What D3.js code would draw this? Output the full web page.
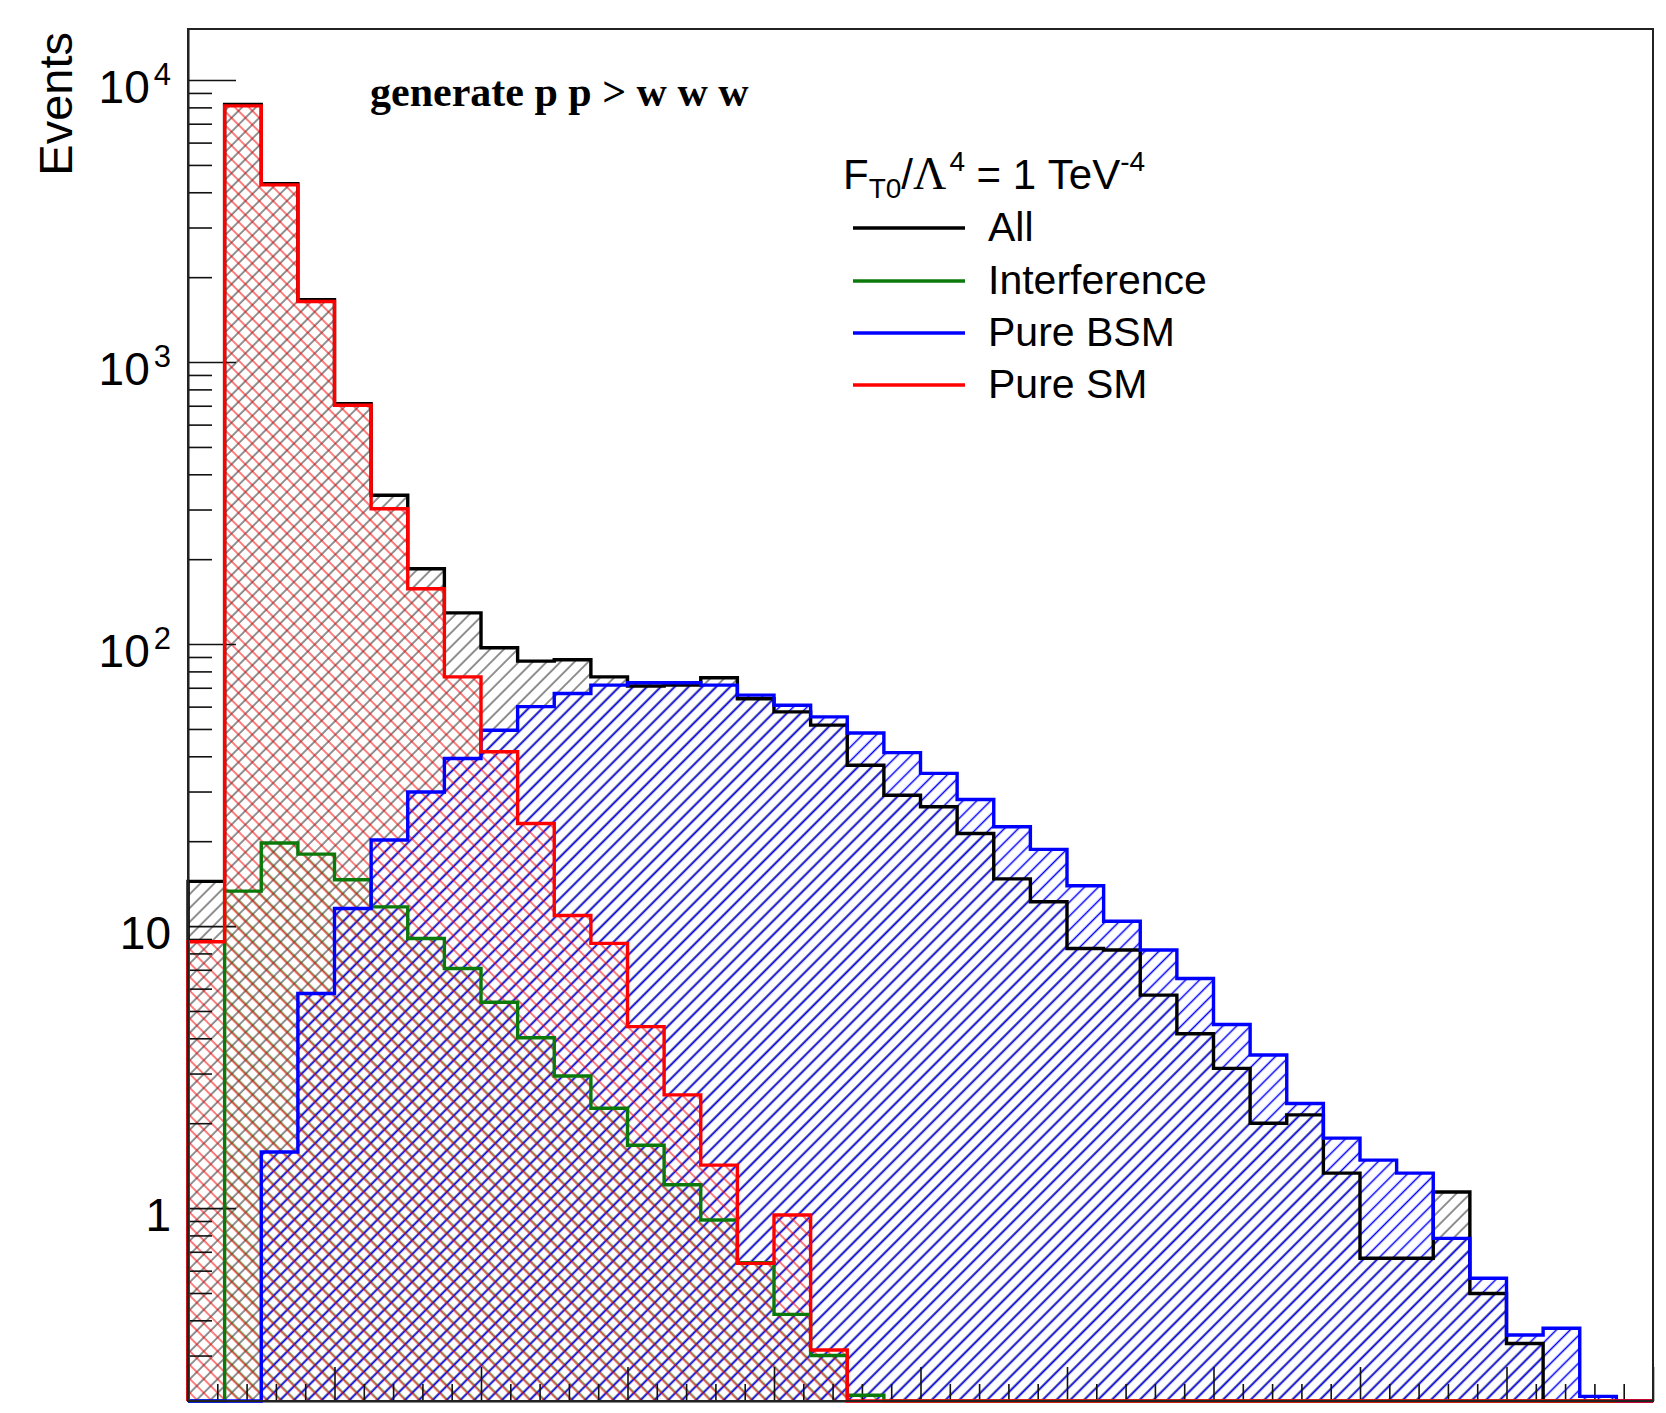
<!DOCTYPE html>
<html>
<head>
<meta charset="utf-8">
<script src="https://cdn.jsdelivr.net/npm/d3@7"></script>
<style>
  body { margin: 0; background: #fff; }
  text { font-family: "Liberation Sans", Arial, sans-serif; }
</style>
</head>
<body>
<div id="chart"></div>
<script>
// 40 bins of 100 between 0 and 4000
const binEdges = d3.range(0, 4001, 100);

const allEvents = [14.4, 8200, 4290, 1665, 712, 337, 185, 129, 97, 87,
  88, 76.5, 71, 71.5, 76, 64, 57.5, 51.6, 37.2, 29.1,
  26.5, 21.3, 14.7, 12.2, 8.33, 8.23, 5.69, 4.15, 3.13, 2.0,
  2.14, 1.33, 0.664, 0.664, 1.14, 0.498, 0.331, 0, 0, 0];

const interference = [0, 13.3, 19.7, 18.0, 14.6, 11.7, 9.04, 7.07, 5.37, 4.02,
  2.94, 2.26, 1.67, 1.21, 0.907, 0.64, 0.42, 0.30, 0.217, 0,
  0, 0, 0, 0, 0, 0, 0, 0, 0, 0,
  0, 0, 0, 0, 0, 0, 0, 0, 0, 0];

const pureBSM = [0, 0, 1.58, 5.77, 11.55, 20.2, 29.9, 39.3, 49.5, 60.0,
  66.8, 71.5, 72.9, 72.9, 71.5, 65.9, 60.7, 55.2, 48.4, 41.2,
  34.8, 28.1, 22.5, 18.7, 13.9, 10.4, 8.23, 6.52, 4.48, 3.49,
  2.35, 1.77, 1.48, 1.33, 0.781, 0.564, 0.355, 0.375, 0.215, 0];

const pureSM = [8.8, 8100, 4250, 1640, 703, 302, 157, 76.5, 41.5, 23.1,
  10.9, 8.68, 4.40, 2.52, 1.42, 0.637, 0.945, 0.314, 0, 0,
  0, 0, 0, 0, 0, 0, 0, 0, 0, 0,
  0, 0, 0, 0, 0, 0, 0, 0, 0, 0];

const seriesNames = ["All", "Interference", "Pure BSM", "Pure SM"];
const seriesColors = ["#000000", "#0b7a0b", "#0000ff", "#ff0000"];
const yMajorTicks = [1, 10, 100, 1000, 10000];
const yExponents = ["", "", "2", "3", "4"];

const W = 1666, H = 1413;
const padLeft = 188, padRight = 1653, padTop = 29, padBottom = 1401;

let x = d3.scaleLinear().domain([0, 4000]).range([padLeft, padRight]);
let y = d3.scaleLog().domain([0.207, 15170]).range([padBottom, padTop]);

const svg = d3.select("#chart").append("svg")
    .attr("width", W).attr("height", H)
    .style("background", "#fff");

// hatch patterns, aligned in user space so the overlaps line up like ROOT
const defs = svg.append("defs");
function hatch(id, angle, color, width, offset) {
    defs.append("pattern")
        .attr("id", id)
        .attr("patternUnits", "userSpaceOnUse")
        .attr("width", 9.8).attr("height", 9.8)
        .attr("patternTransform", "rotate(" + angle + ")")
      .append("line")
        .attr("x1", offset).attr("y1", -1)
        .attr("x2", offset).attr("y2", 10.8)
        .attr("stroke", color)
        .attr("stroke-width", width);
}
hatch("h0", 45, "#222", 1.0, 2);
hatch("h1", -45, seriesColors[1], 1.0, 2.9);
hatch("h2", 45, seriesColors[2], 1.5, 2.5);
hatch("h3", -45, seriesColors[3], 1.0, 2);

const series = [allEvents, interference, pureBSM, pureSM];

function stepPoints(vals) {
    let pts = [[x(binEdges[0]), padBottom]];
    vals.forEach(function (v, i) {
        pts.push([x(binEdges[i]), v > 0 ? y(v) : padBottom]);
    });
    let last = vals[vals.length - 1];
    pts.push([x(binEdges[vals.length]), last > 0 ? y(last) : padBottom]);
    pts.push([x(binEdges[vals.length]), padBottom]);
    return pts;
}
const step = d3.line().curve(d3.curveStepAfter);

// fills
svg.append("g").selectAll("path").data(series).enter()
    .append("path")
        .attr("d", function (d) { return step(stepPoints(d)); })
        .attr("fill", function (d, i) { return "url(#h" + i + ")"; })
        .attr("stroke", "none");

// y axis (ticks point inward)
let yTicks = [];
[0.1, 1, 10, 100, 1000, 10000].forEach(function (dec) {
    for (let k = 1; k < 10; k++) {
        let v = k * dec;
        if (v >= 0.207 && v <= 15170) yTicks.push(v);
    }
});
let leftAxis = d3.axisLeft(y).tickValues(yTicks).tickFormat("")
    .tickSizeInner(-24).tickSizeOuter(0);
let gy = svg.append("g").attr("transform", "translate(" + padLeft + ",0)").call(leftAxis);
gy.selectAll(".tick line")
    .attr("x2", function (d) { return yMajorTicks.indexOf(d) >= 0 ? 48 : 24; })
    .attr("stroke", "#111").attr("stroke-width", 1.6);
gy.select(".domain").attr("stroke", "#111").attr("stroke-width", 2);

// x axis, labels fall outside the picture
let xTicks = d3.range(0, 4001, 80);
let bottomAxis = d3.axisBottom(x).tickValues(xTicks).tickFormat("")
    .tickSizeInner(-17).tickSizeOuter(0);
let gx = svg.append("g").attr("transform", "translate(0," + padBottom + ")").call(bottomAxis);
gx.selectAll(".tick line")
    .attr("y2", function (d) { return d % 400 === 0 ? -34 : -17; })
    .attr("stroke", "#111").attr("stroke-width", 1.6);
gx.select(".domain").attr("stroke", "#111").attr("stroke-width", 2);

// y tick labels: 1, 10, 10^2 ...
yMajorTicks.forEach(function (v, i) {
    let t = svg.append("text")
        .attr("x", 171).attr("y", y(v) + 23)
        .attr("text-anchor", "end")
        .attr("font-size", 46);
    t.append("tspan").text(String(v).length > 2 ? "10" : String(v));
    if (yExponents[i]) {
        t.append("tspan").attr("dx", 4).attr("dy", -18)
            .attr("font-size", 31).text(yExponents[i]);
    }
});

// outlines
svg.append("g").selectAll("path").data(series).enter()
    .append("path")
        .attr("d", function (d) { return step(stepPoints(d)); })
        .attr("fill", "none")
        .attr("stroke", function (d, i) { return seriesColors[i]; })
        .attr("stroke-width", 3.4);

// frame
svg.append("rect")
    .attr("x", padLeft).attr("y", padTop)
    .attr("width", padRight - padLeft).attr("height", padBottom - padTop)
    .attr("fill", "none").attr("stroke", "#222").attr("stroke-width", 2);

// axis title
svg.append("text")
    .attr("transform", "translate(72,32) rotate(-90)")
    .attr("text-anchor", "end")
    .attr("font-size", 47)
    .text("Events");

// process label
svg.append("text")
    .attr("x", 370).attr("y", 106)
    .style("font-family", "'Liberation Serif', 'Times New Roman', serif")
    .style("font-weight", "bold")
    .attr("font-size", 42)
    .text("generate p p > w w w");

// legend
let head = svg.append("text").attr("x", 843).attr("y", 189).attr("font-size", 42);
head.append("tspan").text("F");
head.append("tspan").attr("font-size", 28).attr("dy", 9).text("T0");
head.append("tspan").attr("dy", -9).text("/");
head.append("tspan").style("font-family", "'Liberation Serif', serif").attr("font-size", 46).text("Λ");
head.append("tspan").attr("font-size", 28).attr("dy", -18).attr("dx", 3).text("4");
head.append("tspan").attr("dy", 18).text(" = 1 TeV");
head.append("tspan").attr("font-size", 28).attr("dy", -18).text("-4");

let legendY = [228, 281, 333, 385];
let lg = svg.append("g").selectAll("g").data(seriesNames).enter().append("g");
lg.append("line")
    .attr("x1", 853).attr("x2", 965)
    .attr("y1", function (d, i) { return legendY[i]; })
    .attr("y2", function (d, i) { return legendY[i]; })
    .attr("stroke", function (d, i) { return seriesColors[i]; })
    .attr("stroke-width", 3.4);
lg.append("text")
    .attr("x", 988)
    .attr("y", function (d, i) { return legendY[i] + 13; })
    .attr("font-size", 41)
    .text(function (d) { return d; });
</script>
</body>
</html>
